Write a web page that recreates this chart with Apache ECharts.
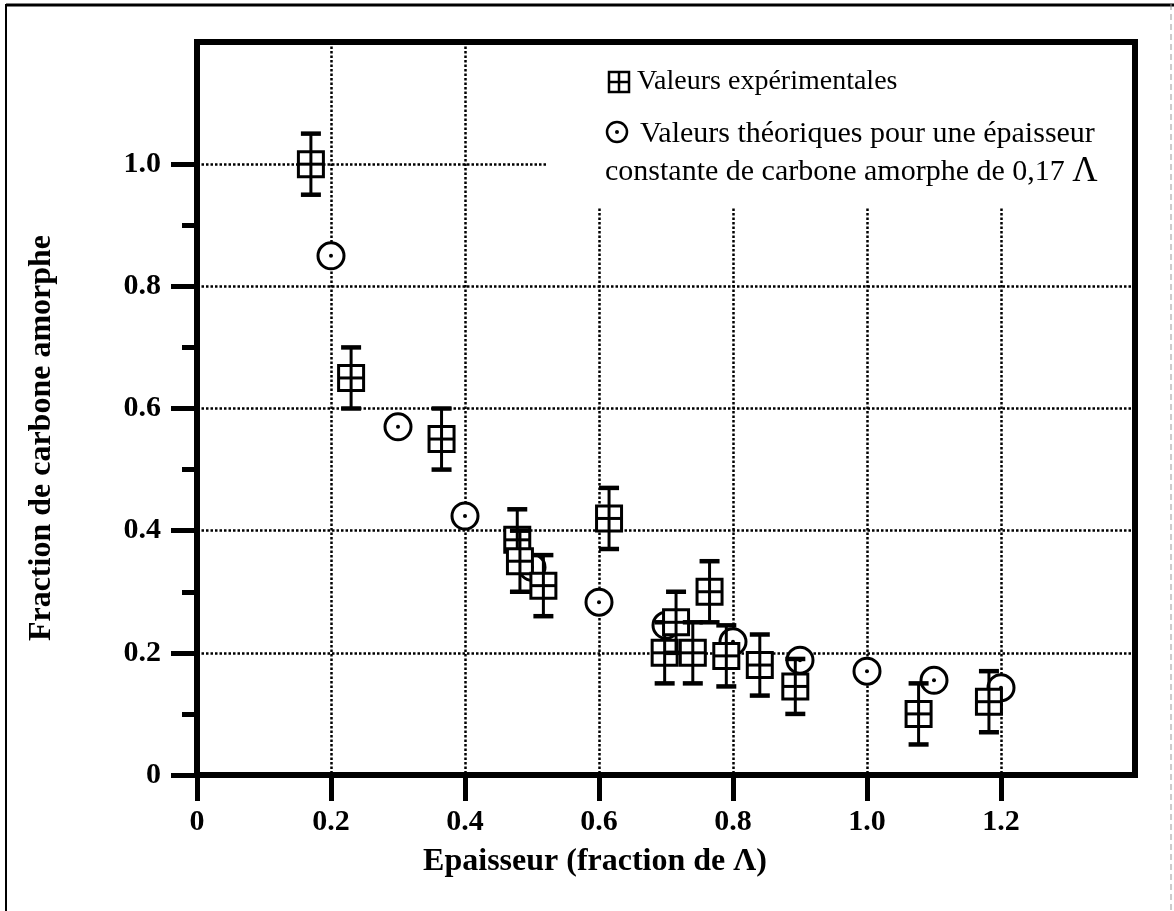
<!DOCTYPE html>
<html>
<head>
<meta charset="utf-8">
<script src="https://cdn.jsdelivr.net/npm/echarts@6/dist/echarts.min.js"></script>
<style>
  html, body { margin: 0; padding: 0; background: #fff; }
  #chart { width: 1174px; height: 911px; }
</style>
</head>
<body>
<div id="chart"></div>
<script>
// Tick values shown on each axis
const xTicks = [0, 0.2, 0.4, 0.6, 0.8, 1.0, 1.2];
const yTicks = [0, 0.2, 0.4, 0.6, 0.8, 1.0];
const yMinorTicks = [0.1, 0.3, 0.5, 0.7, 0.9];

// Experimental points: thickness, amorphous fraction, error half-height
const expX   = [0.17, 0.23, 0.365, 0.478, 0.482, 0.517, 0.615, 0.698, 0.715, 0.74, 0.765, 0.79, 0.84, 0.893, 1.077, 1.182];
const expY   = [1.00, 0.65, 0.55, 0.385, 0.35, 0.31, 0.42, 0.20, 0.25, 0.20, 0.30, 0.195, 0.18, 0.145, 0.10, 0.12];
const expErr = [0.05, 0.05, 0.05, 0.05, 0.05, 0.05, 0.05, 0.05, 0.05, 0.05, 0.05, 0.05, 0.05, 0.045, 0.05, 0.05];

// Theoretical points for a constant amorphous carbon thickness of 0.17
const theoX = [0.2, 0.3, 0.4, 0.5, 0.6, 0.7, 0.8, 0.9, 1.0, 1.1, 1.2];
const theoY = [0.85, 0.57, 0.424, 0.34, 0.283, 0.245, 0.218, 0.188, 0.17, 0.155, 0.143];

const SERIF = '"Liberation Serif", "Times New Roman", serif';

const chart = echarts.init(document.getElementById('chart'), null, { renderer: 'canvas' });

const dotted = { color: '#000', width: 2.5, type: [2.5, 2] };

function fmt(v) { return v === 0 ? '0' : v.toFixed(1); }

function renderSquare(params, api) {
  const x = api.value(0), y = api.value(1), e = api.value(2);
  const c = api.coord([x, y]);
  const t = api.coord([x, y + e]);
  const b = api.coord([x, y - e]);
  const h = 12.5, cap = 10;
  const stroke = { stroke: '#000', lineWidth: 3 };
  return {
    type: 'group',
    children: [
      { type: 'line', shape: { x1: c[0], y1: t[1], x2: c[0], y2: b[1] }, style: stroke },
      { type: 'line', shape: { x1: c[0] - cap, y1: t[1], x2: c[0] + cap, y2: t[1] }, style: { stroke: '#000', lineWidth: 4.5 } },
      { type: 'line', shape: { x1: c[0] - cap, y1: b[1], x2: c[0] + cap, y2: b[1] }, style: { stroke: '#000', lineWidth: 4.5 } },
      { type: 'rect', shape: { x: c[0] - h, y: c[1] - h, width: 2 * h, height: 2 * h }, style: { fill: '#fff', stroke: '#000', lineWidth: 3 } },
      { type: 'line', shape: { x1: c[0], y1: c[1] - h, x2: c[0], y2: c[1] + h }, style: stroke },
      { type: 'line', shape: { x1: c[0] - h, y1: c[1], x2: c[0] + h, y2: c[1] }, style: stroke }
    ]
  };
}

function renderCircle(params, api) {
  const c = api.coord([api.value(0), api.value(1)]);
  return {
    type: 'group',
    children: [
      { type: 'circle', shape: { cx: c[0], cy: c[1], r: 13 }, style: { fill: '#fff', stroke: '#000', lineWidth: 3 } },
      { type: 'circle', shape: { cx: c[0], cy: c[1], r: 2 }, style: { fill: '#000' } }
    ]
  };
}

function legendText(text, size) {
  return {
    text: text, fill: '#000', fontFamily: SERIF, fontSize: size,
    verticalAlign: 'middle', align: 'left',
    rich: { big: { fontFamily: SERIF, fontSize: size + 5, fill: '#000' } }
  };
}

const option = {
  animation: false,
  backgroundColor: '#fff',
  grid: {
    left: 197, top: 42, right: 39, bottom: 136,
    show: true, borderColor: '#000', borderWidth: 6, backgroundColor: 'transparent'
  },
  xAxis: {
    type: 'value', min: 0, max: 1.4, interval: 0.2,
    axisLine: { show: true, lineStyle: { color: '#000', width: 6 } },
    axisTick: { show: true, length: 26, lineStyle: { color: '#000', width: 5 }, customValues: xTicks },
    axisLabel: {
      customValues: xTicks, formatter: fmt, margin: 32,
      color: '#000', fontFamily: SERIF, fontWeight: 'bold', fontSize: 30
    },
    splitLine: { show: true, lineStyle: dotted }
  },
  yAxis: [
    {
      type: 'value', min: 0, max: 1.2, interval: 0.2,
      axisLine: { show: true, lineStyle: { color: '#000', width: 6 } },
      axisTick: { show: true, length: 26, lineStyle: { color: '#000', width: 5 }, customValues: yTicks },
      axisLabel: {
        customValues: yTicks, formatter: fmt, margin: 36,
        color: '#000', fontFamily: SERIF, fontWeight: 'bold', fontSize: 30
      },
      splitLine: { show: true, lineStyle: dotted }
    },
    {
      // short ticks halfway between the labelled ones
      type: 'value', min: 0, max: 1.2, interval: 0.2, position: 'left',
      axisLine: { show: false },
      axisTick: { show: true, length: 15, lineStyle: { color: '#000', width: 5 }, customValues: yMinorTicks },
      axisLabel: { show: false },
      splitLine: { show: false }
    }
  ],
  graphic: [
    // outer figure frame
    { type: 'line', shape: { x1: 6, y1: 5, x2: 1174, y2: 5 }, style: { stroke: '#000', lineWidth: 3 }, z: 0 },
    { type: 'line', shape: { x1: 6, y1: 4, x2: 6, y2: 911 }, style: { stroke: '#000', lineWidth: 2 }, z: 0 },
    { type: 'line', shape: { x1: 1171, y1: 4, x2: 1171, y2: 911 }, style: { stroke: '#999', lineWidth: 1, lineDash: [6, 4] }, z: 0 },
    // key box
    { type: 'rect', shape: { x: 547, y: 46, width: 584, height: 161 }, style: { fill: '#fff' }, z: 1 },
    { type: 'rect', shape: { x: 609, y: 72, width: 20, height: 20 }, style: { fill: '#fff', stroke: '#000', lineWidth: 2.5 }, z: 2 },
    { type: 'line', shape: { x1: 619, y1: 72, x2: 619, y2: 92 }, style: { stroke: '#000', lineWidth: 2.5 }, z: 2 },
    { type: 'line', shape: { x1: 609, y1: 82, x2: 629, y2: 82 }, style: { stroke: '#000', lineWidth: 2.5 }, z: 2 },
    { type: 'text', x: 637, y: 82, style: legendText('Valeurs expérimentales', 28), z: 2 },
    { type: 'circle', shape: { cx: 617, cy: 132, r: 10 }, style: { fill: '#fff', stroke: '#000', lineWidth: 2.5 }, z: 2 },
    { type: 'circle', shape: { cx: 617, cy: 132, r: 2 }, style: { fill: '#000' }, z: 2 },
    { type: 'text', x: 640, y: 134, style: legendText('Valeurs théoriques pour une épaisseur', 30), z: 2 },
    { type: 'text', x: 605, y: 172, style: legendText('constante de carbone amorphe de 0,17 {big|Λ}', 30), z: 2 },
    // axis titles
    {
      type: 'text', x: 42, y: 438, rotation: Math.PI / 2,
      style: { text: 'Fraction de carbone amorphe', fill: '#000', fontFamily: SERIF, fontWeight: 'bold', fontSize: 32, align: 'center', verticalAlign: 'middle' },
      z: 2
    },
    {
      type: 'text', x: 595, y: 862,
      style: { text: 'Epaisseur (fraction de Λ)', fill: '#000', fontFamily: SERIF, fontWeight: 'bold', fontSize: 32, align: 'center', verticalAlign: 'middle' },
      z: 2
    }
  ],
  series: [
    {
      name: 'Valeurs théoriques',
      type: 'custom',
      renderItem: renderCircle,
      data: theoX.map((x, i) => [x, theoY[i]]),
      silent: true,
      z: 3
    },
    {
      name: 'Valeurs expérimentales',
      type: 'custom',
      renderItem: renderSquare,
      data: expX.map((x, i) => [x, expY[i], expErr[i]]),
      silent: true,
      z: 4
    }
  ]
};

chart.setOption(option);
</script>
</body>
</html>
